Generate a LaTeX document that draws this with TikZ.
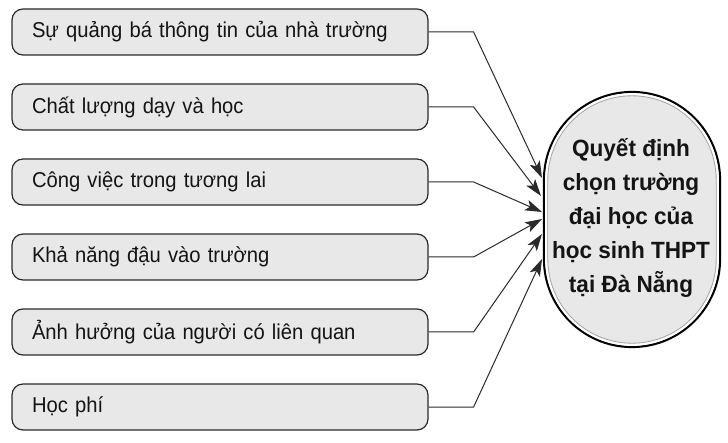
\documentclass[tikz,border=0pt]{standalone}
\usepackage{fontspec}
\setmainfont{Liberation Sans}[FakeStretch=0.94]
\newfontfamily\cfont{Liberation Sans}[FakeStretch=0.96]
\usetikzlibrary{arrows.meta}
\definecolor{boxfill}{HTML}{E8E8E8}
\definecolor{boxline}{HTML}{2A2A2A}
\definecolor{txt}{HTML}{141414}
\tikzset{
  factor/.style={draw=boxline, line width=1.2pt, fill=boxfill, rounded corners=11pt,
    minimum width=416pt, minimum height=46pt, text width=376pt, inner xsep=20pt,
    align=left, text=txt, font=\fontsize{21.5}{24}\selectfont},
  link/.style={draw=boxline, line width=1pt, -{Stealth[length=17pt,width=11pt,inset=4pt]}},
  goal/.style={draw=black, line width=2.2pt, fill=boxfill, rounded corners=88pt,
    minimum width=176pt, minimum height=255pt},
}
\begin{document}
\begin{tikzpicture}[x=1pt,y=1pt]
\useasboundingbox (0,0) rectangle (728,442);
% central node
\node[goal] (c) at (632,222.5) {};
\node[draw=white, line width=2.2pt, rounded corners=85.8pt, minimum width=171.6pt, minimum height=250.6pt] (cw) at (c.center) {};
\node[draw=gray!70, line width=0.8pt, rounded corners=84.2pt, minimum width=168.4pt, minimum height=247.4pt] (cg) at (c.center) {};
\node[align=center, text=txt, font=\cfont\bfseries\fontsize{23.5}{34}\selectfont] (ct) at (631,224)
  {Quyết định\\chọn trường\\đại học của\\học sinh THPT\\tại Đà Nẵng};
% factor boxes
\node[factor] (b1) at (220,410) {Sự quảng bá thông tin của nhà trường};
\node[factor] (b2) at (220,335) {Chất lượng dạy và học};
\node[factor] (b3) at (220,260) {Công việc trong tương lai};
\node[factor] (b4) at (220,185) {Khả năng đậu vào trường};
\node[factor] (b5) at (220,110) {Ảnh hưởng của người có liên quan};
\node[factor] (b6) at (220,35) {Học phí};
% arrow tips on the central node
\coordinate (t1) at (542,264);
\coordinate (t2) at (541,246);
\coordinate (t3) at (542,230);
\coordinate (t4) at (542,223);
\coordinate (t5) at (542,208);
\coordinate (t6) at (542,183);
\foreach \i in {1,...,6}{
  \draw[link] (b\i.east) -- ++(45,0) -- (t\i);
}
\end{tikzpicture}
\end{document}
